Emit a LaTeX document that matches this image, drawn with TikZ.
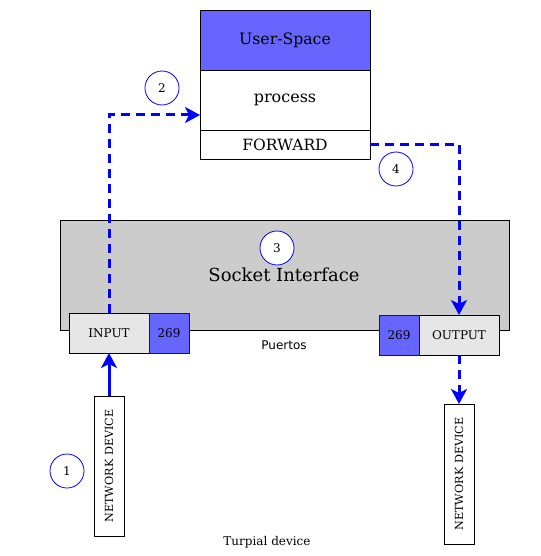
\documentclass[tikz,border=0pt]{standalone}
\usepackage{fontspec}
\setmainfont{DejaVu Serif}
\newfontfamily\puertosfont{DejaVu Sans}
\usetikzlibrary{positioning,arrows.meta}
\definecolor{ublue}{RGB}{102,102,255}
\definecolor{sgray}{RGB}{204,204,204}
\definecolor{pgray}{RGB}{230,230,230}
\tikzset{%
  box/.style = { draw, line width=0.9pt, inner sep=0pt, outer sep=0pt },
  portbox/.style = { box, draw=blue, fill=ublue, minimum width=40pt, minimum height=40pt, font=\fontsize{12}{14}\selectfont },
  iobox/.style = { box, fill=pgray, minimum width=80pt, minimum height=40pt, font=\fontsize{12}{14}\selectfont },
  devbox/.style = { box, fill=white, minimum width=30pt, minimum height=140pt, font=\fontsize{11.2}{13}\selectfont },
  num/.style = { circle, draw=blue, fill=white, line width=0.8pt, minimum size=34pt, inner sep=0pt, font=\fontsize{12}{14}\selectfont },
  flow/.style = { draw=blue, line width=3pt, -{Stealth[length=15pt,width=16pt,inset=4pt]} },
  dflow/.style = { flow, dash pattern=on 9pt off 6pt }
}
\begin{document}
\begin{tikzpicture}[x=1pt,y=-1pt]

  \useasboundingbox (0,0) rectangle (540,556);

  % User space stack
  \node[box, fill=ublue, minimum width=170pt, minimum height=60pt, font=\fontsize{15.7}{18}\selectfont] (user) at (285,40) {User-Space};
  \node[box, fill=white, minimum width=170pt, minimum height=60pt, font=\fontsize{16}{18}\selectfont, below=0pt of user] (proc) {process};
  \node[box, fill=white, minimum width=170pt, minimum height=29pt, font=\fontsize{15.5}{18}\selectfont, below=0pt of proc] (fwd) {FORWARD};

  % Socket interface
  \node[box, fill=sgray, minimum width=449pt, minimum height=110pt] (sock) at (284.5,275) {};
  \node[font=\fontsize{18}{20}\selectfont] (socktext) at (284,275) {Socket Interface};
  \node[num] (n3) at (277,248) {3};

  % Ports
  \node[iobox] (input) at (109,333) {INPUT};
  \node[portbox, right=0pt of input] (pin) {269};
  \node[iobox] (output) at (459,335) {OUTPUT};
  \node[portbox, left=0pt of output] (pout) {269};
  \node[font=\puertosfont\fontsize{12}{14}\selectfont] (puertos) at (284,345) {Puertos};

  % Devices
  \node[devbox] (nd1) at (109,466) {\rotatebox{90}{NETWORK DEVICE}};
  \node[devbox] (nd2) at (459,474) {\rotatebox{90}{NETWORK DEVICE}};
  \node[font=\fontsize{12}{14}\selectfont] (turpial) at (267,542) {Turpial device};

  % Steps
  \node[num] (n1) at (67,471) {1};
  \node[num] (n2) at (162,88) {2};
  \node[num] (n4) at (396,169) {4};

  % Packet flow
  \draw[flow] (nd1.north) -- (input.south);
  \draw[dflow] (input.north) |- ([yshift=-15pt]proc.west);
  \draw[dflow] (fwd.east) -| (output.north);
  \draw[dflow] (output.south) -- (nd2.north);

\end{tikzpicture}
\end{document}
